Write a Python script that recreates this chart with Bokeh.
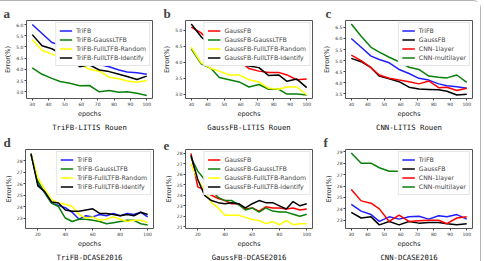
from bokeh.plotting import figure
from bokeh.models import Range1d, FixedTicker, Title, PrintfTickFormatter
from bokeh.layouts import column, row
from bokeh.embed import file_html
from bokeh.resources import INLINE

# ---------------- data ----------------
epochs_rouen = [30, 36, 42, 47, 53, 59, 65, 71, 77, 83, 88, 94, 100]
epochs_dcase = [15, 20, 25, 30, 35, 40, 45, 50, 55, 60, 65, 70, 75, 80, 85, 90, 95, 100]
epochs_cnn_dcase = [30, 36, 42, 47, 53, 59, 65, 71, 77, 83, 88, 94, 100]

# a: TriFB - LITIS Rouen
a_trifb = [6.0, 5.6, 5.2, 5.08, 4.95, 4.75, 4.5, 4.22, 4.12, 3.97, 3.88, 3.85, 3.78]
a_gauss_ltfb = [4.07, 3.78, 3.6, 3.46, 3.38, 3.27, 3.28, 3.0, 3.06, 2.98, 3.0, 2.93, 2.83]
a_full_random = [5.33, 4.85, 4.68, 4.5, 4.2, 4.25, 4.0, 3.92, 3.65, 3.58, 3.48, 3.42, 3.5]
a_full_identify = [5.55, 5.05, 4.92, 4.72, 4.5, 4.12, 4.2, 3.97, 3.9, 3.78, 3.68, 3.55, 3.7]

# b: GaussFB - LITIS Rouen
b_gaussfb = [5.1, 4.92, 4.6, 4.3, 4.18, 4.05, 3.8, 3.72, 3.68, 3.68, 3.6, 3.45, 3.47]
b_gauss_ltfb = [4.42, 3.95, 3.8, 3.52, 3.45, 3.38, 3.22, 3.3, 3.15, 3.15, 3.0, 3.0, 2.97]
b_full_random = [4.47, 3.98, 3.8, 3.72, 3.6, 3.6, 3.45, 3.38, 3.18, 3.15, 3.22, 3.22, 2.97]
b_full_identify = [5.2, 4.8, 4.5, 4.22, 4.2, 3.95, 3.88, 3.83, 3.58, 3.6, 3.4, 3.47, 3.2]

# c: CNN - LITIS Rouen
c_trifb = [6.0, 5.6, 5.2, 5.05, 4.9, 4.6, 4.42, 4.2, 4.12, 3.95, 3.87, 3.82, 3.75]
c_gaussfb = [5.1, 4.95, 4.68, 4.3, 4.18, 4.05, 3.8, 3.72, 3.7, 3.68, 3.62, 3.45, 3.48]
c_cnn_1layer = [5.25, 5.0, 4.68, 4.35, 4.2, 4.12, 4.05, 3.95, 4.08, 3.78, 3.8, 3.65, 3.75]
c_cnn_multilayer = [6.65, 6.1, 5.6, 5.38, 5.15, 4.95, 4.7, 4.6, 4.3, 4.25, 4.22, 4.35, 4.02]

# d: TriFB - DCASE2016
d_trifb = [28.6, 26.0, 25.2, 24.3, 24.1, 23.9, 23.5, 22.9, 23.2, 23.1, 23.3, 23.2, 23.4, 23.2, 23.4, 23.3, 23.5, 23.1]
d_gauss_ltfb = [28.5, 26.2, 25.2, 24.3, 24.0, 23.0, 22.7, 22.9, 22.9, 22.8, 22.7, 22.5, 22.6, 22.7, 22.8, 22.8, 22.5, 22.4]
d_full_random = [28.6, 26.5, 25.5, 24.6, 24.3, 24.2, 24.0, 23.3, 23.0, 23.1, 22.8, 22.9, 23.1, 22.9, 22.7, 22.8, 22.8, 22.6]
d_full_identify = [28.6, 25.8, 25.3, 24.4, 24.3, 23.7, 23.6, 23.6, 23.7, 23.8, 23.4, 23.4, 23.3, 23.2, 23.3, 23.2, 23.5, 23.3]

# e: GaussFB - DCASE2016
e_gaussfb = [28.0, 24.8, 24.5, 24.0, 23.7, 23.5, 23.2, 23.2, 22.7, 22.8, 22.5, 22.9, 22.8, 22.8, 22.7, 22.8, 22.6, 22.7]
e_gauss_ltfb = [27.6, 26.3, 25.5, 24.5, 23.8, 23.5, 23.5, 23.1, 22.6, 22.8, 22.4, 22.8, 22.5, 22.4, 22.4, 22.2, 22.0, 22.2]
e_full_random = [27.0, 25.5, 24.5, 23.3, 22.8, 22.1, 22.1, 22.1, 21.9, 21.7, 21.6, 21.3, 21.5, 21.2, 21.6, 21.2, 21.3, 21.3]
e_full_identify = [27.8, 25.5, 24.0, 23.5, 23.3, 23.2, 23.3, 23.2, 22.8, 23.2, 23.5, 23.3, 23.3, 23.0, 22.7, 23.4, 23.0, 23.2]

# f: CNN - DCASE2016
f_trifb = [24.4, 23.8, 23.5, 22.9, 23.3, 23.1, 23.3, 23.35, 23.1, 23.4, 23.3, 23.5, 23.1]
f_gaussfb = [23.7, 23.2, 23.3, 22.6, 22.9, 22.6, 22.9, 22.75, 22.8, 22.8, 22.7, 22.6, 22.7]
f_cnn_1layer = [25.7, 24.7, 24.5, 24.0, 22.9, 23.45, 22.9, 22.95, 23.0, 23.0, 22.7, 23.2, 23.3]
f_cnn_multilayer = [28.9, 28.0, 28.0, 27.6, 27.3, 27.3, 26.9, 26.8, 26.6, 26.6, 26.5, 26.5, 26.4]

rouen_xticks = [30, 40, 50, 60, 70, 80, 90, 100]
dcase_xticks = [20, 40, 60, 80, 100]
a_yticks = [3.0, 3.5, 4.0, 4.5, 5.0, 5.5, 6.0]
b_yticks = [3.0, 3.5, 4.0, 4.5, 5.0]
c_yticks = [3.5, 4.0, 4.5, 5.0, 5.5, 6.0, 6.5]
d_yticks = [23, 24, 25, 26, 27, 28, 29]
e_yticks = [21, 22, 23, 24, 25, 26, 27, 28]
f_yticks = [23, 24, 25, 26, 27, 28, 29]

BLUE = "#1f1fff"
GREEN = "#0a800a"
RED = "#ff0000"
YELLOW = "#ffff00"
BLACK = "#000000"


def make_panel(letter, caption, x, series, xr, yr, xticks, yticks, yfmt,
               w, h, bl, br, bt, bb):
    p = figure(width=w, height=h, output_backend="svg", toolbar_location=None,
               x_range=Range1d(*xr), y_range=Range1d(*yr),
               min_border_left=bl, min_border_right=br,
               min_border_top=bt, min_border_bottom=bb,
               x_axis_label="epochs", y_axis_label="Error(%)")
    p.title.text = letter
    p.title.text_font = "Liberation Serif"
    p.title.text_font_size = "13px"
    p.title.text_font_style = "bold"
    p.title.align = "left"
    p.title.offset = -bl + 3
    p.title.standoff = 0
    p.grid.visible = False
    p.outline_line_color = "#555555"
    p.outline_line_width = 1
    p.background_fill_color = "white"
    p.border_fill_color = "white"
    for ax in (p.xaxis[0], p.yaxis[0]):
        ax.axis_line_color = None
        ax.major_tick_line_color = "#444444"
        ax.major_tick_out = 2
        ax.major_tick_in = 0
        ax.minor_tick_line_color = None
        ax.major_label_text_font = "DejaVu Sans"
        ax.major_label_text_font_size = "4.5px"
        ax.major_label_text_color = "#333333"
        ax.major_label_standoff = 1
        ax.axis_label_text_font = "DejaVu Sans"
        ax.axis_label_text_font_size = "6.5px"
        ax.axis_label_text_font_style = "normal"
        ax.axis_label_text_color = "#222222"
        ax.axis_label_standoff = 1
    p.xaxis.ticker = FixedTicker(ticks=xticks)
    p.yaxis.ticker = FixedTicker(ticks=yticks)
    p.yaxis.formatter = PrintfTickFormatter(format=yfmt)
    for label, ys, color in series:
        p.line(x, ys, line_color=color, line_width=1.5, legend_label=label)
    lg = p.legend[0]
    lg.location = "top_right"
    lg.label_text_font = "DejaVu Sans"
    lg.label_text_font_size = "6.2px"
    lg.label_height = 9
    lg.glyph_height = 9
    lg.glyph_width = 13
    lg.label_standoff = 4
    lg.spacing = 0
    lg.padding = 3
    lg.margin = 2
    lg.border_line_color = "#cccccc"
    lg.border_line_width = 1
    lg.background_fill_alpha = 1.0
    cap = Title(text=caption, align="center", text_font="DejaVu Sans Mono",
                text_font_size="7.3px", text_font_style="normal",
                text_color="#111111", standoff=0)
    p.add_layout(cap, "below")
    return p


pa = make_panel("a", "TriFB-LITIS Rouen", epochs_rouen,
                [("TriFB", a_trifb, BLUE), ("TriFB-GaussLTFB", a_gauss_ltfb, GREEN),
                 ("TriFB-FullLTFB-Random", a_full_random, YELLOW),
                 ("TriFB-FullLTFB-Identify", a_full_identify, BLACK)],
                (26.5, 103.5), (2.70, 6.18), rouen_xticks, a_yticks, "%.1f",
                160, 130, 26, 8, 18, 30)
pb = make_panel("b", "GaussFB-LITIS Rouen", epochs_rouen,
                [("GaussFB", b_gaussfb, RED), ("GaussFB-GaussLTFB", b_gauss_ltfb, GREEN),
                 ("GaussFB-FullLTFB-Random", b_full_random, YELLOW),
                 ("GaussFB-FullLTFB-Identify", b_full_identify, BLACK)],
                (26.5, 103.5), (2.86, 5.31), rouen_xticks, b_yticks, "%.1f",
                160, 130, 25, 8, 19, 30)
pc = make_panel("c", "CNN-LITIS Rouen", epochs_rouen,
                [("TriFB", c_trifb, BLUE), ("GaussFB", c_gaussfb, BLACK),
                 ("CNN-1layer", c_cnn_1layer, RED),
                 ("CNN-multilayer", c_cnn_multilayer, GREEN)],
                (26.5, 103.5), (3.29, 6.81), rouen_xticks, c_yticks, "%.1f",
                160, 130, 23, 8, 16, 28)
pd_ = make_panel("d", "TriFB-DCASE2016", epochs_dcase,
                 [("TriFB", d_trifb, BLUE), ("TriFB-GaussLTFB", d_gauss_ltfb, GREEN),
                  ("TriFB-FullLTFB-Random", d_full_random, YELLOW),
                  ("TriFB-FullLTFB-Identify", d_full_identify, BLACK)],
                 (11.0, 104.25), (22.09, 28.96), dcase_xticks, d_yticks, "%d",
                 160, 130, 25, 7, 18, 27)
pe = make_panel("e", "GaussFB-DCASE2016", epochs_dcase,
                [("GaussFB", e_gaussfb, RED), ("GaussFB-GaussLTFB", e_gauss_ltfb, GREEN),
                 ("GaussFB-FullLTFB-Random", e_full_random, YELLOW),
                 ("GaussFB-FullLTFB-Identify", e_full_identify, BLACK)],
                (11.0, 104.25), (20.84, 28.36), dcase_xticks, e_yticks, "%d",
                160, 130, 25, 8, 18, 27)
pf = make_panel("f", "CNN-DCASE2016", epochs_cnn_dcase,
                [("TriFB", f_trifb, BLUE), ("GaussFB", f_gaussfb, BLACK),
                 ("CNN-1layer", f_cnn_1layer, RED),
                 ("CNN-multilayer", f_cnn_multilayer, GREEN)],
                (26.5, 103.5), (22.28, 29.2), rouen_xticks, f_yticks, "%d",
                160, 130, 25, 8, 18, 27)

layout = column(row(pa, pb, pc), row(pd_, pe, pf),
                styles={"border-top": "1px solid #b5b5b5",
                        "border-right": "1px solid #b5b5b5",
                        "border-top-right-radius": "8px"})

open("out.html", "w").write(file_html(layout, INLINE))
